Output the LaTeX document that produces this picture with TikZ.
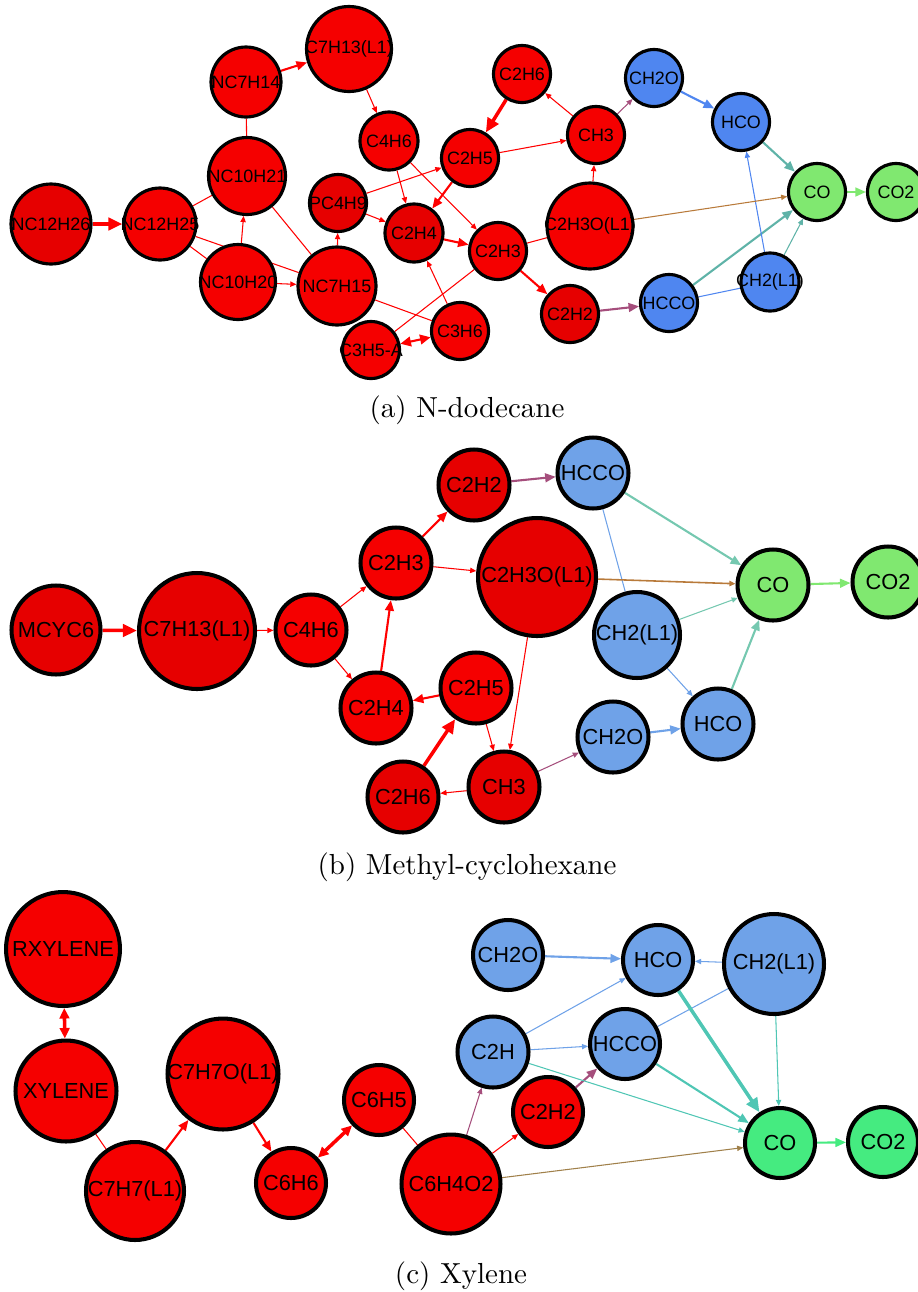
\documentclass[tikz,border=0pt]{standalone}
\usepackage{fontspec}
\usetikzlibrary{arrows.meta,backgrounds}
\newfontfamily\spfont{Liberation Sans}
\newfontfamily\capfont{lmroman10-regular}[Extension=.otf]

\definecolor{redA}{HTML}{F50000}
\definecolor{redB}{HTML}{E60000}
\definecolor{blueA}{HTML}{4F86F0}
\definecolor{blueB}{HTML}{6FA2E8}
\definecolor{greenA}{HTML}{80E870}
\definecolor{greenC}{HTML}{45EB80}
\definecolor{tealA}{HTML}{5FB3A8}
\definecolor{tealB}{HTML}{75C8B0}
\definecolor{tealC}{HTML}{4FC6B4}
\definecolor{mauve}{HTML}{A54E7C}
\definecolor{brownA}{HTML}{B87A3A}
\definecolor{brownC}{HTML}{A0804A}

\tikzset{
  spa/.style={circle, draw, line width=1.8pt, inner sep=0pt, minimum size=1.14cm,
    font=\spfont\fontsize{10.2}{12}\selectfont},
  spb/.style={circle, draw, line width=2.3pt, inner sep=0pt, minimum size=1.42cm,
    font=\spfont\fontsize{12.4}{14}\selectfont},
  link/.style={line width=0.6pt},
  thinarr/.style={line width=0.6pt, -{Triangle[length=3.5pt,width=3pt]}},
  midarr/.style={line width=1.2pt, -{Triangle[length=6pt,width=5pt]}},
  bigarr/.style={line width=2pt, -{Triangle[length=8pt,width=7pt]}},
  twoway/.style={{Triangle[length=6pt,width=5.5pt]}-{Triangle[length=6pt,width=5.5pt]}},
  caption/.style={font=\capfont\fontsize{16.5}{20}\selectfont}
}
\newcommand{\spn}[1]{\makebox[0pt]{#1}}

\begin{document}
\begin{tikzpicture}[x=0.02cm, y=-0.02cm]
\useasboundingbox (0,0) rectangle (918,1292);

% (a)
\node[spa, fill=redB, minimum size=1.60cm] (aNC12H26) at (51,224) {\spn{NC12H26}};
\node[spa, fill=redA, minimum size=1.44cm] (aNC12H25) at (160,224) {\spn{NC12H25}};
\node[spa, fill=redA, minimum size=1.54cm] (aNC10H21) at (247,176) {\spn{NC10H21}};
\node[spa, fill=redA, minimum size=1.40cm] (aNC7H14) at (246,82) {\spn{NC7H14}};
\node[spa, fill=redA, minimum size=1.70cm] (aC7H13) at (349,49) {\spn{C7H13(L1)}};
\node[spa, fill=redA, minimum size=1.16cm] (aC4H6) at (389,141) {\spn{C4H6}};
\node[spa, fill=redB] (aPC4H9) at (338,203) {\spn{PC4H9}};
\node[spa, fill=redA, minimum size=1.50cm] (aNC10H20) at (238,282) {\spn{NC10H20}};
\node[spa, fill=redA, minimum size=1.56cm] (aNC7H15) at (337,286) {\spn{NC7H15}};
\node[spa, fill=redB, minimum size=1.16cm] (aC2H4) at (414,233) {\spn{C2H4}};
\node[spa, fill=redA] (aC3H5A) at (371,350) {\spn{C3H5-A}};
\node[spa, fill=redA] (aC3H6) at (460,331) {\spn{C3H6}};
\node[spa, fill=redA] (aC2H3) at (498,251) {\spn{C2H3}};
\node[spa, fill=redA] (aC2H5) at (470,158) {\spn{C2H5}};
\node[spa, fill=redA] (aC2H6) at (522,74) {\spn{C2H6}};
\node[spa, fill=redA] (aCH3) at (596,135) {\spn{CH3}};
\node[spa, fill=redA, minimum size=1.72cm] (aC2H3O) at (590,226) {\spn{C2H3O(L1)}};
\node[spa, fill=redB] (aC2H2) at (570,314) {\spn{C2H2}};
\node[spa, fill=blueA] (aCH2O) at (654,78) {\spn{CH2O}};
\node[spa, fill=blueA] (aHCO) at (741,122) {\spn{HCO}};
\node[spa, fill=greenA] (aCO) at (817,192) {\spn{CO}};
\node[spa, fill=greenA] (aCO2) at (896,192) {\spn{CO2}};
\node[spa, fill=blueA] (aHCCO) at (669,303) {\spn{HCCO}};
\node[spa, fill=blueA, minimum size=1.16cm] (aCH2L1) at (770,282) {\spn{CH2(L1)}};
\node[caption] (capa) at (467,410) {(a) N-dodecane};

\begin{scope}[on background layer]
\draw[bigarr, red] (aNC12H26) -- (aNC12H25);
\draw[link, red] (aNC12H25) -- (aNC10H21);
\draw[link, red] (aNC12H25) -- (aNC10H20);
\draw[link, red] (aNC12H25) -- (aNC7H15);
\draw[thinarr, red] (aNC10H20) -- (aNC10H21);
\draw[link, red] (aNC10H21) -- (aNC7H14);
\draw[link, red] (aNC10H21) -- (aNC7H15);
\draw[thinarr, red] (aNC10H20) -- (aNC7H15);
\draw[midarr, red] (aNC7H14) -- (aC7H13);
\draw[thinarr, red] (aC7H13) -- (aC4H6);
\draw[thinarr, red] (aNC7H15) -- (aPC4H9);
\draw[thinarr, red] (aPC4H9) -- (aC2H5);
\draw[thinarr, red] (aPC4H9) -- (aC2H4);
\draw[thinarr, red] (aC4H6) -- (aC2H4);
\draw[thinarr, red] (aC4H6) -- (aC2H3);
\draw[midarr, red] (aC2H5) -- (aC2H4);
\draw[midarr, red] (aC2H4) -- (aC2H3);
\draw[bigarr, red] (aC2H6) -- (aC2H5);
\draw[thinarr, red] (aCH3) -- (aC2H6);
\draw[thinarr, red] (aC2H5) -- (aCH3);
\draw[thinarr, red] (aC2H3O) -- (aCH3);
\draw[link, red] (aC2H3) -- (aC2H3O);
\draw[midarr, red] (aC2H3) -- (aC2H2);
\draw[link, red] (aNC7H15) -- (aC3H6);
\draw[link, red] (aC3H5A) -- (aC2H3);
\draw[thinarr, red] (aC3H6) -- (aC2H4);
\draw[line width=1.2pt, twoway, red] (aC3H5A) -- (aC3H6);
\draw[thinarr, mauve] (aCH3) -- (aCH2O);
\draw[midarr, mauve] (aC2H2) -- (aHCCO);
\draw[midarr, blueA] (aCH2O) -- (aHCO);
\draw[midarr, tealA] (aHCO) -- (aCO);
\draw[midarr, tealA] (aHCCO) -- (aCO);
\draw[link, blueA] (aHCCO) -- (aCH2L1);
\draw[thinarr, blueA] (aCH2L1) -- (aHCO);
\draw[thinarr, tealA] (aCH2L1) -- (aCO);
\draw[thinarr, brownA] (aC2H3O) -- (aCO);
\draw[midarr, greenA] (aCO) -- (aCO2);
\end{scope}

% (b)
\node[spb, fill=redB, minimum size=1.78cm] (bMCYC6) at (56,630) {\spn{MCYC6}};
\node[spb, fill=redB, minimum size=2.32cm] (bC7H13) at (197,631) {\spn{C7H13(L1)}};
\node[spb, fill=redA] (bC4H6) at (311,630) {\spn{C4H6}};
\node[spb, fill=redA] (bC2H3) at (396,563) {\spn{C2H3}};
\node[spb, fill=redA] (bC2H4) at (376,708) {\spn{C2H4}};
\node[spb, fill=redB] (bC2H6) at (403,797) {\spn{C2H6}};
\node[spb, fill=redB] (bC2H2) at (474,485) {\spn{C2H2}};
\node[spb, fill=blueB] (bHCCO) at (593,473) {\spn{HCCO}};
\node[spb, fill=redB, minimum size=2.36cm] (bC2H3O) at (537,577) {\spn{C2H3O(L1)}};
\node[spb, fill=greenA] (bCO) at (773,585) {\spn{CO}};
\node[spb, fill=greenA] (bCO2) at (888,582) {\spn{CO2}};
\node[spb, fill=blueB, minimum size=1.72cm] (bCH2L1) at (637,635) {\spn{CH2(L1)}};
\node[spb, fill=redA] (bC2H5) at (476,688) {\spn{C2H5}};
\node[spb, fill=blueB] (bHCO) at (718,724) {\spn{HCO}};
\node[spb, fill=blueB] (bCH2O) at (613,737) {\spn{CH2O}};
\node[spb, fill=redB] (bCH3) at (504,787) {\spn{CH3}};
\node[caption] (capb) at (467,867) {(b) Methyl-cyclohexane};

\begin{scope}[on background layer]
\draw[bigarr, red] (bMCYC6) -- (bC7H13);
\draw[thinarr, red] (bC7H13) -- (bC4H6);
\draw[thinarr, red] (bC4H6) -- (bC2H3);
\draw[thinarr, red] (bC4H6) -- (bC2H4);
\draw[midarr, red] (bC2H4) -- (bC2H3);
\draw[midarr, red] (bC2H3) -- (bC2H2);
\draw[thinarr, red] (bC2H3) -- (bC2H3O);
\draw[midarr, red] (bC2H5) -- (bC2H4);
\draw[bigarr, red] (bC2H6) -- (bC2H5);
\draw[thinarr, red] (bC2H5) -- (bCH3);
\draw[thinarr, red] (bC2H3O) -- (bCH3);
\draw[thinarr, red] (bCH3) -- (bC2H6);
\draw[thinarr, mauve] (bCH3) -- (bCH2O);
\draw[midarr, mauve] (bC2H2) -- (bHCCO);
\draw[midarr, blueB] (bCH2O) -- (bHCO);
\draw[midarr, tealB] (bHCO) -- (bCO);
\draw[midarr, tealB] (bHCCO) -- (bCO);
\draw[link, blueB] (bHCCO) -- (bCH2L1);
\draw[thinarr, brownA, line width=0.9pt] (bC2H3O) -- (bCO);
\draw[thinarr, tealB] (bCH2L1) -- (bCO);
\draw[thinarr, blueB] (bCH2L1) -- (bHCO);
\draw[midarr, greenA] (bCO) -- (bCO2);
\end{scope}

% (c)
\node[spb, fill=redA, minimum size=2.28cm] (cRXYLENE) at (63,949) {\spn{RXYLENE}};
\node[spb, fill=redA, minimum size=2.02cm] (cXYLENE) at (66,1091) {\spn{XYLENE}};
\node[spb, fill=redA, minimum size=1.96cm] (cC7H7) at (135,1191) {\spn{C7H7(L1)}};
\node[spb, fill=redA, minimum size=2.22cm] (cC7H7O) at (223,1074) {\spn{C7H7O(L1)}};
\node[spb, fill=redA, minimum size=1.40cm] (cC6H6) at (291,1183) {\spn{C6H6}};
\node[spb, fill=redA, minimum size=1.40cm] (cC6H5) at (379,1100) {\spn{C6H5}};
\node[spb, fill=redA, minimum size=1.98cm] (cC6H4O2) at (451,1184) {\spn{C6H4O2}};
\node[spb, fill=blueB] (cC2H) at (493,1052) {\spn{C2H}};
\node[spb, fill=redA, minimum size=1.40cm] (cC2H2) at (548,1112) {\spn{C2H2}};
\node[spb, fill=blueB, minimum size=1.40cm] (cCH2O) at (508,955) {\spn{CH2O}};
\node[spb, fill=blueB, minimum size=1.40cm] (cHCO) at (658,960) {\spn{HCO}};
\node[spb, fill=blueB, minimum size=2.00cm] (cCH2L1) at (774,964) {\spn{CH2(L1)}};
\node[spb, fill=blueB, minimum size=1.40cm] (cHCCO) at (625,1044) {\spn{HCCO}};
\node[spb, fill=greenC, minimum size=1.40cm] (cCO) at (780,1143) {\spn{CO}};
\node[spb, fill=greenC, minimum size=1.40cm] (cCO2) at (883,1142) {\spn{CO2}};
\node[caption] (capc) at (461,1276) {(c) Xylene};

\begin{scope}[on background layer]
\draw[line width=2pt, twoway, red] (cRXYLENE) -- (cXYLENE);
\draw[link, red] (cXYLENE) -- (cC7H7);
\draw[midarr, red] (cC7H7) -- (cC7H7O);
\draw[midarr, red] (cC7H7O) -- (cC6H6);
\draw[line width=2pt, twoway, red] (cC6H6) -- (cC6H5);
\draw[link, red] (cC6H5) -- (cC6H4O2);
\draw[thinarr, mauve] (cC6H4O2) -- (cC2H);
\draw[thinarr, red] (cC6H4O2) -- (cC2H2);
\draw[thinarr, brownC] (cC6H4O2) -- (cCO);
\draw[midarr, mauve] (cC2H2) -- (cHCCO);
\draw[thinarr, blueB] (cC2H) -- (cHCCO);
\draw[thinarr, blueB] (cC2H) -- (cHCO);
\draw[thinarr, tealC] (cC2H) -- (cCO);
\draw[midarr, blueB] (cCH2O) -- (cHCO);
\draw[thinarr, blueB] (cCH2L1) -- (cHCO);
\draw[link, blueB] (cCH2L1) -- (cHCCO);
\draw[thinarr, tealC] (cCH2L1) -- (cCO);
\draw[bigarr, tealC] (cHCO) -- (cCO);
\draw[midarr, tealC] (cHCCO) -- (cCO);
\draw[midarr, greenC] (cCO) -- (cCO2);
\end{scope}
\end{tikzpicture}
\end{document}
